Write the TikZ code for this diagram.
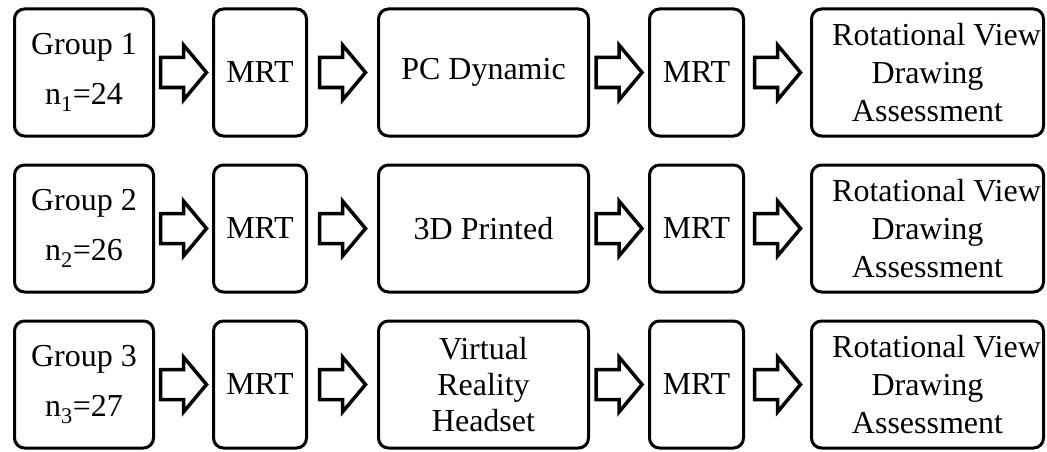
\documentclass[tikz,border=0pt]{standalone}
\usepackage{fontspec}
\setmainfont{Liberation Serif}
\newfontfamily\stagefont{Liberation Serif}
\usetikzlibrary{calc}

\begin{document}
\begin{tikzpicture}[x=1pt,y=-1pt]
\tikzstyle{every node}+=[font=\stagefont\fontsize{32}{38}\selectfont]
\tikzstyle{stage}=[draw=black, line width=3pt, rounded corners=10pt, align=center, minimum height=127pt, inner sep=0pt]
\tikzstyle{blockarrow}=[draw=black, line width=3.5pt, to path={let \p1=($(\tikztostart)!0.5!(\tikztotarget)$) in (\x1-23pt,\y1-15pt) -- (\x1,\y1-15pt) -- (\x1,\y1-27.5pt) -- (\x1+23pt,\y1) -- (\x1,\y1+27.5pt) -- (\x1,\y1+15pt) -- (\x1-23pt,\y1+15pt) -- cycle}]
\useasboundingbox (0,0) rectangle (1047,452);
% row 1
\node [stage, minimum width=139pt] (g1) at (84,72.5) {Group 1\\[12pt]n\textsubscript{1}=24};
\node [stage, minimum width=93pt] (ma1) at (260,72.5) {MRT};
\node [stage, minimum width=210pt] (t1) at (483.5,72.5) {PC Dynamic};
\node [stage, minimum width=94pt] (mb1) at (696.5,72.5) {MRT};
\node [stage, minimum width=232pt] (r1) at (927.5,72.5) {\hspace*{18pt}Rotational View\\Drawing\\Assessment};
% row 2
\node [stage, minimum width=139pt] (g2) at (84,228.5) {Group 2\\[12pt]n\textsubscript{2}=26};
\node [stage, minimum width=93pt] (ma2) at (260,228.5) {MRT};
\node [stage, minimum width=210pt] (t2) at (483.5,228.5) {3D Printed};
\node [stage, minimum width=94pt] (mb2) at (696.5,228.5) {MRT};
\node [stage, minimum width=232pt] (r2) at (927.5,228.5) {\hspace*{18pt}Rotational View\\Drawing\\Assessment};
% row 3
\node [stage, minimum width=139pt] (g3) at (84,384.5) {Group 3\\[12pt]n\textsubscript{3}=27};
\node [stage, minimum width=93pt] (ma3) at (260,384.5) {MRT};
\node [stage, minimum width=210pt] (t3) at (483.5,384.5) {Virtual\\[-2pt]Reality\\[-2pt]Headset};
\node [stage, minimum width=94pt] (mb3) at (696.5,384.5) {MRT};
\node [stage, minimum width=232pt] (r3) at (927.5,384.5) {\hspace*{18pt}Rotational View\\Drawing\\Assessment};
% block arrows
\foreach \i in {1,2,3} {
\draw [blockarrow] (g\i.east) to (ma\i.west);
\draw [blockarrow] (ma\i.east) to (t\i.west);
\draw [blockarrow] (t\i.east) to (mb\i.west);
\draw [blockarrow] (mb\i.east) to (r\i.west);
}
\end{tikzpicture}
\end{document}
